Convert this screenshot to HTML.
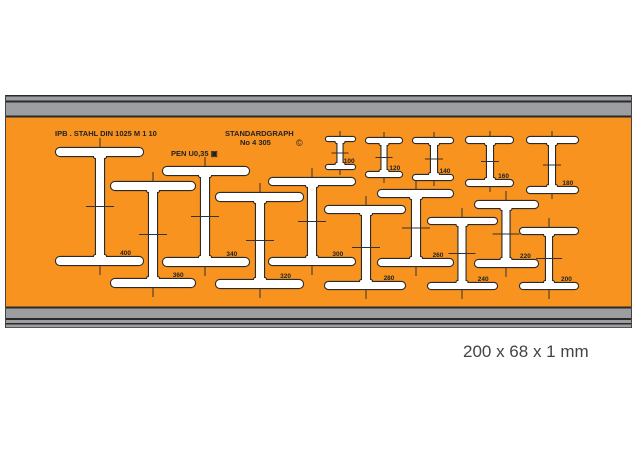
<!DOCTYPE html>
<html><head><style>
body{margin:0;background:#fff;width:638px;height:452px;overflow:hidden}
svg{position:absolute;left:0;top:0}
</style></head><body>
<svg width="638" height="452" xmlns="http://www.w3.org/2000/svg" font-family="Liberation Sans, sans-serif">
<rect x="5" y="95" width="627" height="233" fill="#9c9ea2"/>
<rect x="5" y="95" width="627" height="1.5" fill="#2a2a2a"/>
<rect x="5" y="100.5" width="627" height="2" fill="#2a2a2a"/>
<rect x="5" y="115.5" width="627" height="2" fill="#2a2a2a"/>
<rect x="5" y="117.5" width="627" height="189" fill="#f7931e"/>
<rect x="5" y="306.5" width="627" height="2" fill="#2a2a2a"/>
<rect x="5" y="318" width="627" height="2" fill="#2a2a2a"/>
<rect x="5" y="323" width="627" height="1.5" fill="#2a2a2a"/>
<rect x="5" y="327" width="627" height="1" fill="#555"/>
<rect x="5" y="95" width="1" height="233" fill="#444"/>
<rect x="631" y="95" width="1" height="233" fill="#444"/>
<g id="beams"></g>
<text x="55" y="136" font-size="7.5" font-weight="bold" fill="#222">IPB . STAHL  DIN 1025  M 1 10</text>
<text x="225" y="136" font-size="7.5" font-weight="bold" fill="#222">STANDARDGRAPH</text>
<text x="240" y="145" font-size="7.5" font-weight="bold" fill="#222">No 4 305</text>
<text x="296" y="146" font-size="9" fill="#222">©</text>
<text x="171" y="156" font-size="7.5" font-weight="bold" fill="#222">PEN  U0,35 ▣</text>
<text x="463" y="357" font-size="17" fill="#444">200 x 68 x 1 mm</text>
</svg>
<script>
const B=[
[56,143,148,257,100,8,8,"400"],
[111,195,182,279,153,8,8,"360"],
[163,249,167,258,205,8,8,"340"],
[216,303,193,280,260,8,8,"320"],
[269,355,178,258,312,7,8,"300"],
[325,405,206,282,366,7,8,"280"],
[378,453,190,259,416,7,8,"260"],
[428,497,218,283,462,6,7,"240"],
[475,538,201,260,506,7,7,"220"],
[520,578,228,283,549,6,6,"200"],
[326,355,137,165,340,4,5,"100"],
[366,402,138,172,384,5,5,"120"],
[413,453,138,175,434,5,6,"140"],
[466,513,137,180,490,6,6,"160"],
[527,578,137,187,552,6,6,"180"]];
const ns="http://www.w3.org/2000/svg";const g=document.getElementById("beams");
function el(t,a,p){const e=document.createElementNS(ns,t);for(const k in a)e.setAttribute(k,a[k]);(p||g).appendChild(e);return e;}
const outl=el("g",{stroke:"#2a2a2a","stroke-width":"2.2",fill:"#2a2a2a"});
const fill=el("g",{fill:"#fff"});
const marks=el("g",{stroke:"#333","stroke-width":"1"});
for(const [x1,x2,yt,yb,cx,ft,w,l] of B){
 for(const gr of [outl,fill]){
  el("rect",{x:x1,y:yt,width:x2-x1,height:ft,rx:ft/2},gr);
  el("rect",{x:x1,y:yb,width:x2-x1,height:ft,rx:ft/2},gr);
  el("rect",{x:cx-w/2,y:yt+ft-1,width:w,height:yb-yt-ft+2},gr);
  el("rect",{x:cx-w/2-2,y:yt+ft-1,width:w+4,height:3,rx:1.5},gr);
  el("rect",{x:cx-w/2-2,y:yb-2,width:w+4,height:3,rx:1.5},gr);
 }
 const t=(yb-yt)>50?10:6;
 el("line",{x1:cx,y1:yt-t,x2:cx,y2:yt},marks);
 el("line",{x1:cx,y1:yb+ft,x2:cx,y2:yb+ft+t},marks);
 const ym=(yt+yb+ft)/2;
 el("line",{x1:cx-t-w/2,y1:ym,x2:cx+t+w/2,y2:ym},marks);
 const tx=el("text",{x:x2-(x2-x1)*0.2,y:yb-2,"font-size":"6.5","text-anchor":"middle",fill:"#222","font-weight":"bold"});
 tx.textContent=l;
}
</script>
</body></html>
